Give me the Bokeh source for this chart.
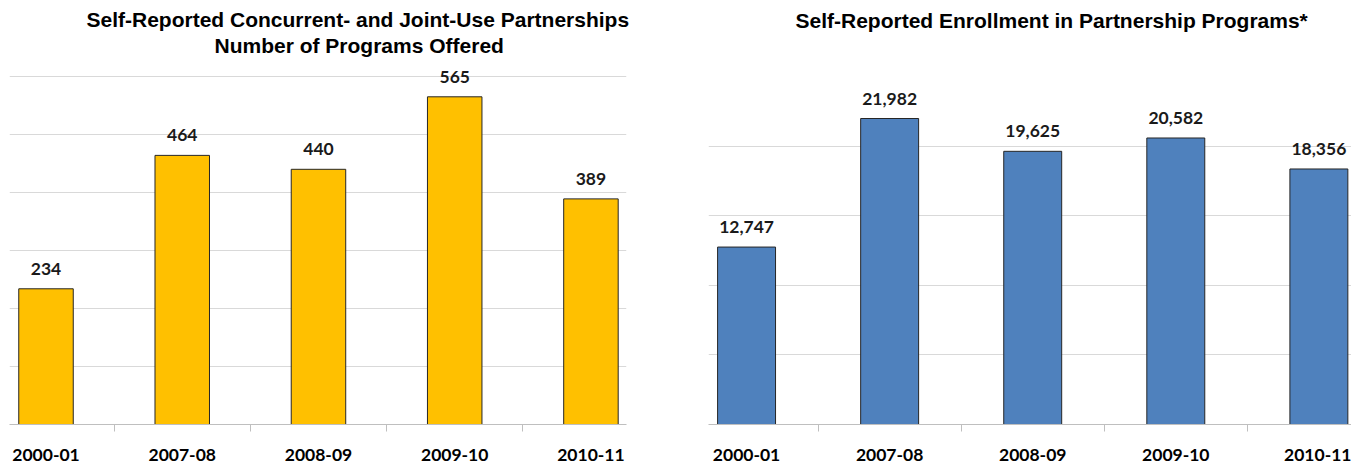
from bokeh.plotting import figure
from bokeh.models import ColumnDataSource, FixedTicker, LabelSet, Title, Range1d
from bokeh.layouts import row
from bokeh.core.properties import value
from bokeh.embed import file_html
from bokeh.resources import INLINE

# ---- data ----
years = ["2000-01", "2007-08", "2008-09", "2009-10", "2010-11"]
programs = [234, 464, 440, 565, 389]
enrollment = [12747, 21982, 19625, 20582, 18356]

program_grid = [100, 200, 300, 400, 500, 600]
enrollment_grid = [5000, 10000, 15000, 20000]

left_title = ["Self-Reported Concurrent- and Joint-Use Partnerships",
              "Number of Programs Offered"]
right_title = ["Self-Reported Enrollment in Partnership Programs*"]

LABEL_FONT = "Lato"
TITLE_FONT = "Liberation Sans"


def make_chart(vals, labels, color, ymax, grid_ticks, xr, width, bl, br,
               title_lines, title_offsets, title_standoffs, gap, bar_width):
    xs = list(range(len(years)))
    src = ColumnDataSource(dict(x=xs, value=vals, label=labels))
    p = figure(width=width, height=464, x_range=Range1d(*xr), y_range=Range1d(0, ymax),
               y_axis_location=None, toolbar_location=None, output_backend="svg",
               min_border_left=bl, min_border_right=br, min_border_top=64,
               min_border_bottom=40, title=None)
    p.outline_line_color = None
    p.background_fill_color = "white"
    p.border_fill_color = "white"
    p.xgrid.visible = False
    p.ygrid.ticker = FixedTicker(ticks=grid_ticks)
    p.ygrid.grid_line_color = "#d9d9d9"
    p.ygrid.grid_line_width = 1

    p.vbar(x="x", top="value", width=bar_width, source=src,
           fill_color=color, line_color="#262626", line_width=1)

    p.add_layout(LabelSet(x="x", y="value", text="label", source=src,
                          text_align="center", text_baseline="alphabetic", y_offset=14,
                          text_font=value(LABEL_FONT), text_font_style="bold",
                          text_font_size=value("17.5px"), text_color="#1a1a1a"))

    ax = p.xaxis[0]
    ax.ticker = FixedTicker(ticks=xs, minor_ticks=[i + 0.5 for i in xs[:-1]])
    ax.major_label_overrides = {i: y for i, y in zip(xs, years)}
    ax.major_tick_line_color = None
    ax.major_tick_out = 0
    ax.major_tick_in = 0
    ax.minor_tick_line_color = "#bfbfbf"
    ax.minor_tick_out = 7
    ax.minor_tick_in = 0
    ax.axis_line_color = "#bfbfbf"
    ax.major_label_standoff = 17
    ax.major_label_text_font = LABEL_FONT
    ax.major_label_text_font_style = "bold"
    ax.major_label_text_font_size = "17.5px"
    ax.major_label_text_color = "#000000"

    # blank spacer between the frame and the titles
    p.add_layout(Title(text=" ", text_font_size="1px", standoff=gap - 3,
                       text_color="white"), "above")
    for line, off, so in reversed(list(zip(title_lines, title_offsets, title_standoffs))):
        p.add_layout(Title(text=line, align="left", offset=off, standoff=so,
                           text_font=TITLE_FONT, text_font_style="bold",
                           text_font_size="21px", text_color="#000000"), "above")
    return p


left = make_chart(programs, [str(v) for v in programs], "#FFC000", 620.7, program_grid,
                  (-0.268, 4.261), 680, 9, 54, left_title, [77, 205], [2, 0], 8, 0.40)
right = make_chart(enrollment, ["{:,}".format(v) for v in enrollment], "#4F81BD", 25862,
                   enrollment_grid, (-0.266, 4.228), 671, 28, 0, right_title, [87], [0], 33,
                   0.405)

layout = row(left, right)
open("out.html", "w").write(file_html(layout, INLINE))
